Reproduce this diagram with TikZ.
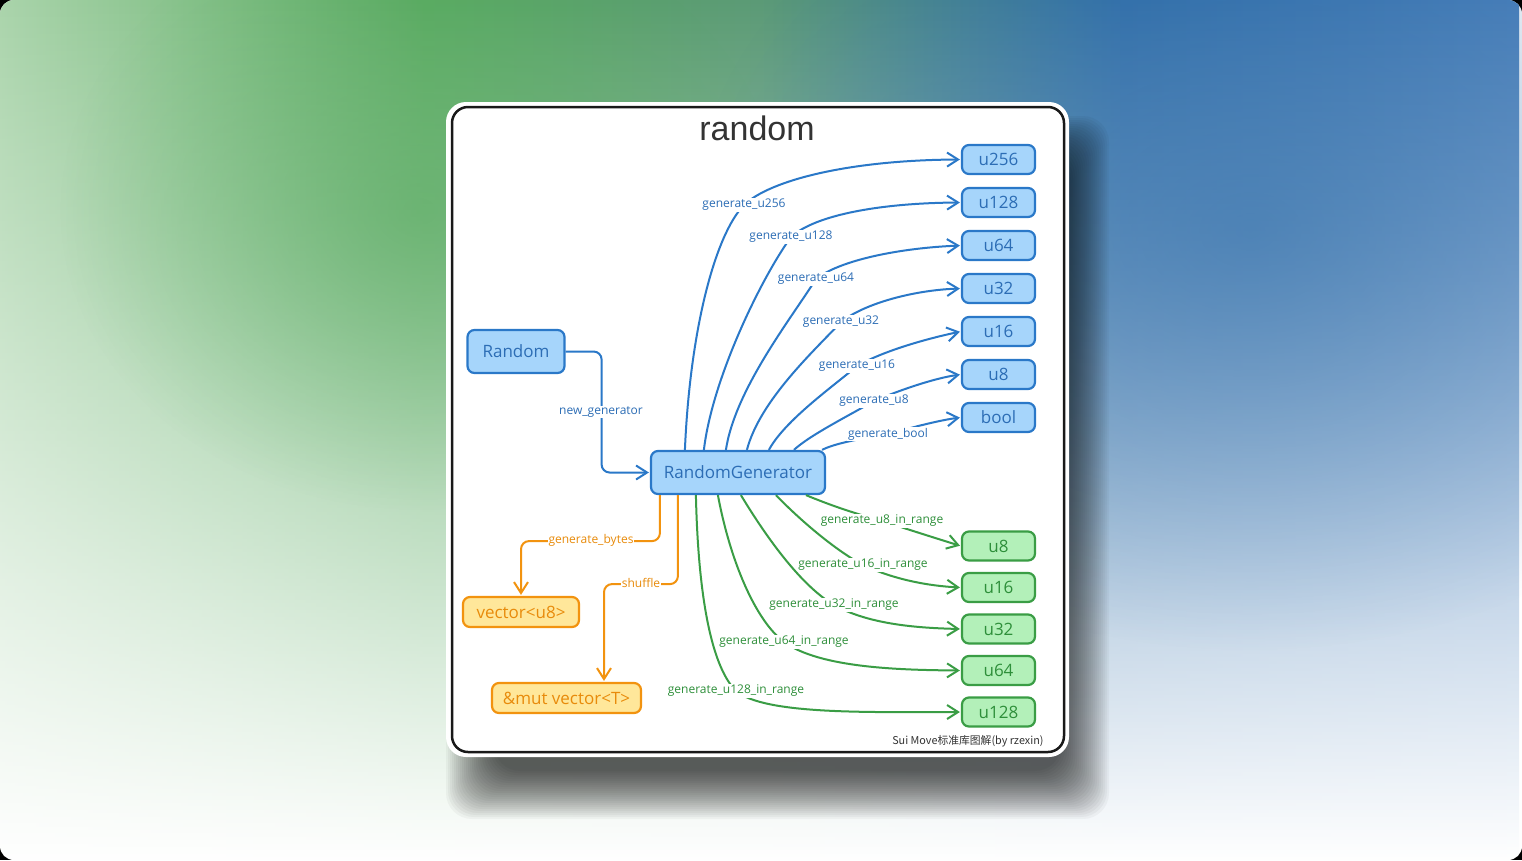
\documentclass[tikz,border=0pt]{standalone}
\usepackage{fontspec}
\newfontfamily\nodefont{Open Sans}
\newfontfamily\titlefont{Liberation Sans}
\newfontfamily\cjkfont{Noto Sans CJK SC}
\usetikzlibrary{arrows.meta,fadings}
\definecolor{bline}{HTML}{2A78C8}
\definecolor{bfill}{HTML}{A6D5FB}
\definecolor{btext}{HTML}{2C6DB5}
\definecolor{gline}{HTML}{3A9D45}
\definecolor{gfill}{HTML}{B3F0B9}
\definecolor{gtext}{HTML}{2E8F3A}
\definecolor{oline}{HTML}{F2930F}
\definecolor{ofill}{HTML}{FFE79A}
\definecolor{otext}{HTML}{E88B0B}
\definecolor{titlegray}{HTML}{333333}
\definecolor{bg0}{HTML}{AAD4AB}
\definecolor{bg1}{HTML}{5AAB62}
\definecolor{bg2}{HTML}{5B9A76}
\definecolor{bg3}{HTML}{3471AB}
\definecolor{bg4}{HTML}{4A80BB}
\pgfdeclarehorizontalshading{bgh}{100bp}{color(0bp)=(bg0); color(25bp)=(bg0); color(39bp)=(bg1); color(50bp)=(bg2); color(62bp)=(bg3); color(75bp)=(bg4); color(100bp)=(bg4)}
\tikzfading[name=bgfade, top color=transparent!0, middle color=transparent!25, bottom color=transparent!100]
\tikzfading[name=blobfade, inner color=transparent!45, outer color=transparent!100]
\begin{document}
\begin{tikzpicture}[x=1pt,y=-1pt,
  boxbase/.style={rounded corners=7pt, line width=2.2pt, inner sep=0pt, font=\nodefont\fontsize{17}{20}\selectfont},
  bnode/.style={boxbase, draw=bline, fill=bfill, text=btext},
  gnode/.style={boxbase, draw=gline, fill=gfill, text=gtext},
  onode/.style={boxbase, draw=oline, fill=ofill, text=otext},
  smallbox/.style={minimum width=73pt, minimum height=29pt},
  edgebase/.style={line width=2pt, -{Straight Barb[length=11pt,width=14pt]}, shorten >=1pt},
  bedge/.style={edgebase, draw=bline},
  gedge/.style={edgebase, draw=gline},
  oedge/.style={edgebase, draw=oline, rounded corners=8pt},
  labbase/.style={fill=white, inner sep=1pt, font=\nodefont\fontsize{12}{14}\selectfont},
  blab/.style={labbase, text=btext},
  glab/.style={labbase, text=gtext},
  olab/.style={labbase, text=otext},
  shadowlayer/.style={fill=black, opacity=0.035, rounded corners=26pt},
]
\useasboundingbox (0,0) rectangle (1522,860);
% background
\fill[black] (0,0) rectangle (1522,860);
\begin{scope}
\clip[rounded corners=14pt] (0,0) rectangle (1522,860);
\fill[white] (0,0) rectangle (1522,860);
\shade[shading=bgh, path fading=bgfade] (0,0) rectangle (1522,860);
\fill[bg3, path fading=blobfade] (1250,230) ellipse [x radius=560, y radius=420];
\fill[bg1, path fading=blobfade] (420,210) ellipse [x radius=360, y radius=300];
\end{scope}
% card shadow
\foreach \i in {0,...,24}{
  \fill[shadowlayer] (446+\i*2,116+\i*2) rectangle (1109-\i*2,819-\i*2);
}
% card
\fill[white, rounded corners=20pt] (446,102) rectangle (1069,757);
\draw[line width=2.5pt, draw=black!90, rounded corners=16pt] (452,107) rectangle (1064,752);
% title and footer
\node[font=\titlefont\fontsize{34}{40}\selectfont, text=titlegray] (title) at (757,128) {random};
\node[anchor=east, font=\cjkfont\fontsize{10.8}{12}\selectfont, text=titlegray] (footer) at (1047,741) {Sui Move标准库图解(by rzexin)};
% nodes
\node[bnode, minimum width=97pt, minimum height=43pt] (random) at (516,351.5) {Random};
\node[bnode, minimum width=174pt, minimum height=43pt] (rg) at (738,472.5) {RandomGenerator};
\node[bnode, smallbox] (t256) at (998.5,159.5) {u256};
\node[bnode, smallbox] (t128) at (998.5,202.5) {u128};
\node[bnode, smallbox] (t64) at (998.5,245.5) {u64};
\node[bnode, smallbox] (t32) at (998.5,288.5) {u32};
\node[bnode, smallbox] (t16) at (998.5,331.5) {u16};
\node[bnode, smallbox] (t8) at (998.5,374.5) {u8};
\node[bnode, smallbox] (tbool) at (998.5,417.5) {bool};
\node[gnode, smallbox] (r8) at (998.5,546) {u8};
\node[gnode, smallbox] (r16) at (998.5,587.5) {u16};
\node[gnode, smallbox] (r32) at (998.5,629) {u32};
\node[gnode, smallbox] (r64) at (998.5,670.5) {u64};
\node[gnode, smallbox] (r128) at (998.5,712) {u128};
\node[onode, minimum width=116pt, minimum height=30pt] (vec) at (521,612) {vector<u8>};
\node[onode, minimum width=149pt, minimum height=30pt] (mut) at (566.5,698) {\&mut vector<T>};
% Random -> RandomGenerator
\draw[bedge, rounded corners=8pt] (random.east) -- ++(36,0) |- (rg.west);
\node[blab] (lnew) at (601,412) {new\_generator};
% blue edges
\draw[bedge] ([xshift=35pt]rg.north west) .. controls (690,330) and (715,235) .. (744,205) node[blab] (l256) {generate\_u256} .. controls (770,180) and (850,160) .. (t256.west);
\draw[bedge] ([xshift=54pt]rg.north west) .. controls (712,380) and (760,280) .. (791,237) node[blab] (l128) {generate\_u128} .. controls (815,215) and (880,203) .. (t128.west);
\draw[bedge] ([xshift=76pt]rg.north west) .. controls (735,390) and (790,320) .. (816,279) node[blab] (l64) {generate\_u64} .. controls (840,260) and (900,248) .. (t64.west);
\draw[bedge] ([xshift=97pt]rg.north west) .. controls (760,400) and (815,350) .. (841,322) node[blab] (l32) {generate\_u32} .. controls (865,303) and (915,290) .. (t32.west);
\draw[bedge] ([xshift=119pt]rg.north west) .. controls (785,420) and (835,385) .. (857,366) node[blab] (l16) {generate\_u16} .. controls (885,350) and (930,338) .. (t16.west);
\draw[bedge] ([xshift=144pt]rg.north west) .. controls (810,435) and (850,415) .. (874,401) node[blab] (l8) {generate\_u8} .. controls (900,390) and (935,378) .. (t8.west);
\draw[bedge] ([xshift=-4pt]rg.north east) .. controls (835,443) and (865,438) .. (888,434) node[blab] (lbool) {generate\_bool} .. controls (910,428) and (940,420) .. (tbool.west);
% green edges
\draw[gedge] ([xshift=156pt]rg.south west) .. controls (830,505) and (850,512) .. (882,521) node[glab] (g8) {generate\_u8\_in\_range} .. controls (910,530) and (935,538) .. (r8.west);
\draw[gedge] ([xshift=126pt]rg.south west) .. controls (800,520) and (835,550) .. (863,565) node[glab] (g16) {generate\_u16\_in\_range} .. controls (895,580) and (930,586) .. (r16.west);
\draw[gedge] ([xshift=91pt]rg.south west) .. controls (765,535) and (800,585) .. (834,605) node[glab] (g32) {generate\_u32\_in\_range} .. controls (870,625) and (920,628) .. (r32.west);
\draw[gedge] ([xshift=68pt]rg.south west) .. controls (730,560) and (755,620) .. (784,642) node[glab] (g64) {generate\_u64\_in\_range} .. controls (820,668) and (900,670) .. (r64.west);
\draw[gedge] ([xshift=46pt]rg.south west) .. controls (698,590) and (710,665) .. (736,691) node[glab] (g128) {generate\_u128\_in\_range} .. controls (765,715) and (870,712) .. (r128.west);
% orange edges
\draw[oedge] ([xshift=10pt]rg.south west) -- ++(0,46) -| (vec.north);
\node[olab, inner sep=0.5pt] (obytes) at (591,540) {generate\_bytes};
\draw[oedge] ([xshift=28pt]rg.south west) -- ++(0,89) -| ([xshift=37.5pt]mut.north);
\node[olab, inner sep=0.5pt] (oshuf) at (641,583) {shuffle};
\end{tikzpicture}
\end{document}
